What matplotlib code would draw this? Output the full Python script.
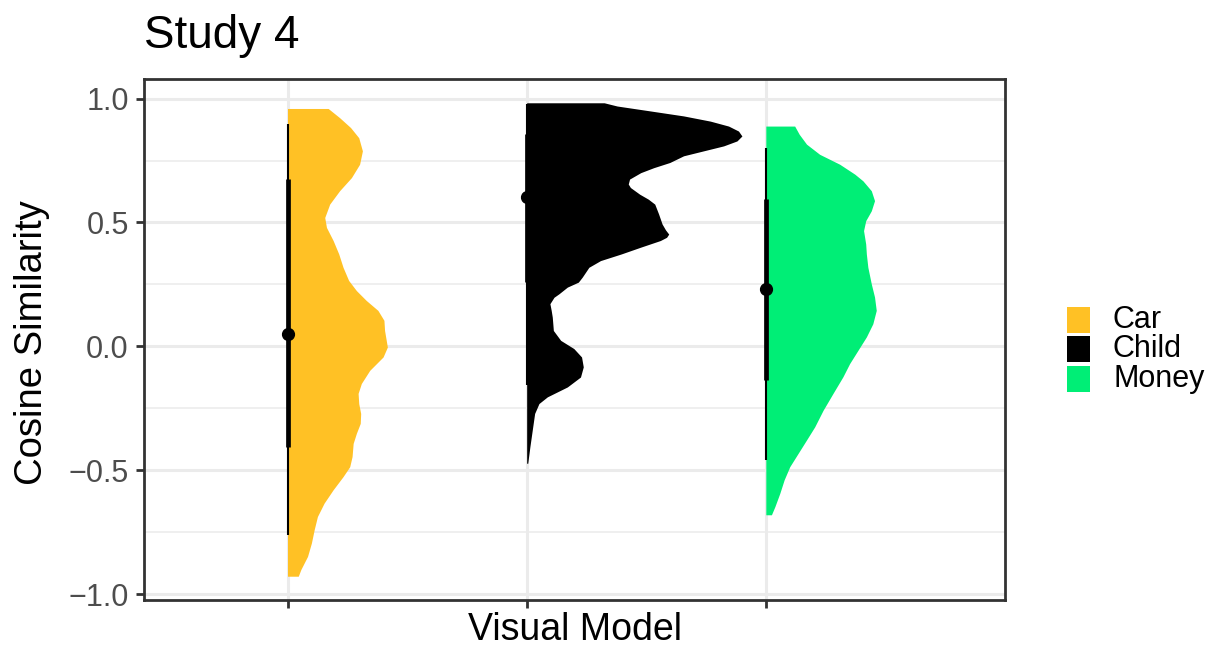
import numpy as np
import matplotlib.pyplot as plt
from matplotlib.patches import Rectangle

plt.rcParams['font.family'] = ['Liberation Sans', 'DejaVu Sans']

groups = ['Car', 'Child', 'Money']
colors = ['#FFC125', '#000000', '#00EE76']

# half-violin outlines: y value and relative density (child peak = 1)
car_y = [0.960, 0.923, 0.883, 0.842, 0.789, 0.735, 0.681, 0.628, 0.574, 0.520,
         0.480, 0.427, 0.373, 0.319, 0.266, 0.225, 0.185, 0.145, 0.105, 0.064,
         -0.003, -0.043, -0.097, -0.150, -0.190, -0.231, -0.271, -0.311, -0.351, -0.392,
         -0.445, -0.486, -0.526, -0.579, -0.633, -0.687, -0.740, -0.794, -0.848, -0.901,
         -0.928]
car_dens = [0.189, 0.242, 0.293, 0.331, 0.348, 0.335, 0.297, 0.242, 0.196, 0.173,
            0.181, 0.212, 0.238, 0.258, 0.284, 0.320, 0.366, 0.420, 0.448, 0.451,
            0.464, 0.444, 0.382, 0.343, 0.328, 0.331, 0.340, 0.338, 0.320, 0.305,
            0.300, 0.289, 0.258, 0.212, 0.170, 0.139, 0.124, 0.111, 0.093, 0.062,
            0.050]

child_y = [0.983, 0.970, 0.950, 0.930, 0.909, 0.889, 0.869, 0.849, 0.829, 0.809,
           0.789, 0.769, 0.742, 0.721, 0.701, 0.675, 0.655, 0.641, 0.614, 0.594,
           0.574, 0.534, 0.494, 0.470, 0.453, 0.440, 0.427, 0.400, 0.373, 0.346,
           0.319, 0.279, 0.259, 0.239, 0.212, 0.198, 0.172, 0.145, 0.118, 0.064,
           0.024, -0.009, -0.043, -0.083, -0.124, -0.164, -0.204, -0.231, -0.271, -0.338,
           -0.405, -0.472]
child_dens = [0.360, 0.420, 0.575, 0.729, 0.853, 0.938, 0.984, 1.000, 0.977, 0.915,
              0.822, 0.729, 0.665, 0.590, 0.530, 0.478, 0.472, 0.482, 0.525, 0.565,
              0.595, 0.613, 0.629, 0.645, 0.660, 0.650, 0.621, 0.529, 0.440, 0.343,
              0.289, 0.258, 0.240, 0.189, 0.150, 0.127, 0.108, 0.114, 0.119, 0.124,
              0.158, 0.219, 0.255, 0.263, 0.250, 0.189, 0.096, 0.057, 0.037, 0.026,
              0.015, 0.005]

money_y = [0.889, 0.856, 0.816, 0.775, 0.735, 0.695, 0.668, 0.628, 0.588, 0.547,
           0.507, 0.467, 0.413, 0.373, 0.319, 0.252, 0.199, 0.145, 0.091, 0.038,
           -0.016, -0.070, -0.123, -0.190, -0.258, -0.325, -0.378, -0.432, -0.486, -0.539,
           -0.593, -0.647, -0.680]
money_dens = [0.134, 0.155, 0.189, 0.250, 0.343, 0.413, 0.451, 0.490, 0.505, 0.490,
              0.464, 0.454, 0.464, 0.467, 0.474, 0.490, 0.505, 0.513, 0.497, 0.467,
              0.428, 0.389, 0.358, 0.312, 0.266, 0.227, 0.189, 0.150, 0.111, 0.085,
              0.065, 0.042, 0.026]

# point + interval summaries
medians = [0.051, 0.601, 0.232]
lo66 = [-0.408, 0.259, -0.137]
hi66 = [0.675, 0.856, 0.594]
lo95 = [-0.760, -0.157, -0.459]
hi95 = [0.896, 0.980, 0.802]

profiles = [(car_y, car_dens), (child_y, child_dens), (money_y, money_dens)]

fig = plt.figure(figsize=(12.12, 6.49), dpi=100)
ax = fig.add_axes([144/1212, 49/649, 861/1212, 521/649])

scale = 0.9 / max(max(d) for _, d in profiles)
for i, ((yv, dv), col) in enumerate(zip(profiles, colors)):
    x0 = i + 1
    yv = np.array(yv)
    dv = np.array(dv)
    ax.fill_betweenx(yv, x0, x0 + dv * scale, color=col, lw=0, zorder=2)
    ax.plot([x0, x0], [lo95[i], hi95[i]], color='black', lw=1.5,
            solid_capstyle='butt', zorder=3)
    ax.plot([x0, x0], [lo66[i], hi66[i]], color='black', lw=3.4,
            solid_capstyle='butt', zorder=3)
    ax.plot(x0, medians[i], 'o', color='black', ms=8.5, zorder=4)

ax.set_xlim(0.4, 4.0)
ax.set_ylim(-1.024, 1.079)
ax.set_xticks([1, 2, 3])
ax.set_xticklabels([])
ax.set_yticks([-1.0, -0.5, 0.0, 0.5, 1.0])
ax.set_yticks([-0.75, -0.25, 0.25, 0.75], minor=True)
ax.set_axisbelow(True)
ax.grid(which='major', color='#EBEBEB', lw=2.2)
ax.grid(which='minor', axis='y', color='#EBEBEB', lw=1.1)
ax.tick_params(which='major', length=6, width=2, color='#333333',
               labelsize=22, labelcolor='#4D4D4D', pad=5)
ax.tick_params(which='minor', length=0)
for sp in ax.spines.values():
    sp.set_color('#333333')
    sp.set_linewidth(2)

fig.text(144/1212, 1 - 48/649, 'Study 4', fontsize=33, ha='left', va='baseline')
fig.text(574.5/1212, 1/649, 'Visual Model', fontsize=27, ha='center', va='bottom')
fig.text(32/1212, 1 - 343/649, 'Cosine Similarity', fontsize=27.5, rotation=90,
         ha='center', va='center')

# legend
for i, (g, col) in enumerate(zip(groups, colors)):
    top = 306.7 + i * 29.7
    fig.add_artist(Rectangle((1067/1212, 1 - (top + 26)/649), 23/1212, 26/649,
                             transform=fig.transFigure, facecolor=col, lw=0))
    fig.text(1113/1212, 1 - (top + 13)/649, g, fontsize=22, ha='left', va='center')

fig.savefig('out.png', dpi=100)
